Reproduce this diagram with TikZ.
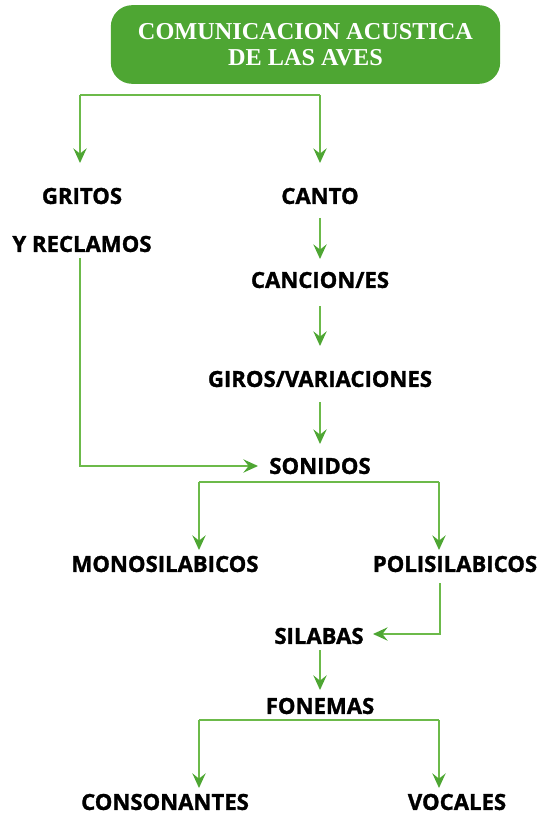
\documentclass[tikz,border=0pt]{standalone}
\usepackage{fontspec}
\setmainfont{Open Sans}[BoldFeatures={FakeBold=1.3}]
\newfontfamily\titlefont{Liberation Serif}
\usetikzlibrary{arrows.meta}
\definecolor{boxgreen}{HTML}{4EA633}
\definecolor{linegreen}{HTML}{6CBA4A}
\definecolor{tipgreen}{HTML}{4EA633}
\tikzset{
  lbl/.style={font=\fontsize{16.6}{19}\selectfont\bfseries, inner sep=0pt, text=black},
  conn/.style={draw=linegreen, line width=1.1pt, -{Stealth[length=11pt, width=10pt, inset=4pt, color=tipgreen]}},
  plain/.style={draw=linegreen, line width=1.1pt},
}
\begin{document}
\begin{tikzpicture}[x=0.75pt, y=-0.75pt]
\useasboundingbox (0,0) rectangle (540,816);
% title
\node[fill=boxgreen, rounded corners=16pt, minimum width=292pt, minimum height=59pt, inner sep=0pt,
      text=white, align=center, font=\titlefont\fontsize{18.2}{19.5}\selectfont\bfseries] (title) at (305.5,44.5)
  {COMUNICACION ACUSTICA\\DE LAS AVES};
\coordinate (t0) at (80,95);
\coordinate (t1) at (320,95);
\node[lbl] (gritos) at (82,196) {GRITOS};
\node[lbl] (reclamos) at (82,244) {Y RECLAMOS};
\node[lbl] (canto) at (320,196) {CANTO};
\node[lbl] (cancion) at (320,280) {CANCION/ES};
\node[lbl] (giros) at (320,379) {GIROS/VARIACIONES};
\node[lbl] (sonidos) at (320,466) {SONIDOS};
\node[lbl] (mono) at (165,564) {MONOSILABICOS};
\node[lbl] (poli) at (455,564) {POLISILABICOS};
\node[lbl] (silabas) at (319,636) {SILABAS};
\node[lbl] (fonemas) at (320,706) {FONEMAS};
\node[lbl] (conso) at (165,802) {CONSONANTES};
\node[lbl] (vocales) at (457,802) {VOCALES};
\coordinate (gtip) at (80,163);
\coordinate (ctip) at (320,163);
\draw[plain] (t0) -- (t1);
\draw[conn] (t0) -- (gtip);
\draw[conn] (t1) -- (ctip);
\draw[conn] (320,218) -- (320,259);
\draw[conn] (320,306) -- (320,346);
\draw[conn] (320,402) -- (320,444);
\draw[conn] (80,258) -- (80,466) -- (258,466);
\coordinate (s0) at (199,482);
\coordinate (s1) at (439,482);
\draw[plain] (s0) -- (s1);
\draw[conn] (s0) -- (199,550);
\draw[conn] (s1) -- (439,550);
\draw[conn] (440,583) -- (440,634) -- (373,634);
\draw[conn] (320,650) -- (320,690);
\coordinate (f0) at (199,720);
\coordinate (f1) at (439,720);
\draw[plain] (f0) -- (f1);
\draw[conn] (f0) -- (199,788);
\draw[conn] (f1) -- (439,788);
\end{tikzpicture}
\end{document}
